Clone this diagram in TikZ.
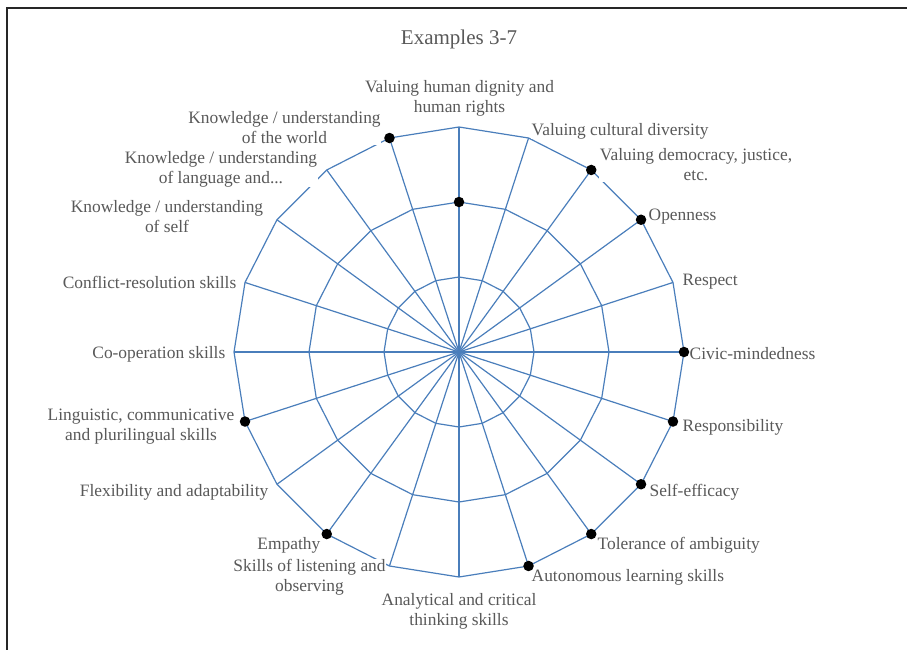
\documentclass[tikz,border=0pt]{standalone}
\usepackage{fontspec}
\setmainfont{Liberation Serif}
\usetikzlibrary{calc}
\definecolor{gridblue}{HTML}{4A7EBB}
\definecolor{labelgray}{HTML}{595959}
\begin{document}
\begin{tikzpicture}[x=1pt,y=-1pt,
  lbl/.style={text=labelgray, font=\fontsize{17.4}{20}\selectfont, fill=white, inner sep=0.5pt, align=center},
  gridline/.style={draw=gridblue, line width=1.2pt, line join=round},
  datadot/.style={circle, fill=black, inner sep=0pt, minimum size=10.5pt},
  frameline/.style={draw=black!85, line width=2pt}]
\useasboundingbox (0,0) rectangle (907,650);
% frame (top and left edges visible)
\coordinate (fa) at (907,8);
\coordinate (fb) at (7,8);
\coordinate (fc) at (7,650);
\draw[frameline] (fa) -- (fb) -- (fc);
% title
\node[lbl, font=\fontsize{21}{24}\selectfont] (title) at (459,39) {Examples 3-7};
% radar grid
\coordinate (c) at (459,352);
\foreach \k in {0,...,19} {
  \pgfmathsetmacro\a{18*\k-90}
  \coordinate (o\k) at ($(c)+(\a:225)$);
  \coordinate (m\k) at ($(c)+(\a:150)$);
  \coordinate (i\k) at ($(c)+(\a:75)$);
}
\foreach \k in {0,...,19} \draw[gridline] (c) -- (o\k);
\draw[gridline] (i0) \foreach \k in {1,...,19}{ -- (i\k)} -- cycle;
\draw[gridline] (m0) \foreach \k in {1,...,19}{ -- (m\k)} -- cycle;
\draw[gridline] (o0) \foreach \k in {1,...,19}{ -- (o\k)} -- cycle;
% labels
\node[lbl] (l0) at (459.5,98) {Valuing human dignity and\\human rights};
\node[lbl, anchor=west] (l1) at (531,131) {Valuing cultural diversity};
\node[lbl] (l2) at (696,165) {Valuing democracy, justice,\\etc.};
\node[lbl, anchor=west] (l3) at (648,217) {Openness};
\node[lbl, anchor=west] (l4) at (682,282) {Respect};
\node[lbl, anchor=west] (l5) at (689,354) {Civic-mindedness};
\node[lbl, anchor=west] (l6) at (682,427) {Responsibility};
\node[lbl, anchor=west] (l7) at (649,492) {Self-efficacy};
\node[lbl, anchor=west] (l8) at (597,545) {Tolerance of ambiguity};
\node[lbl, anchor=west] (l9) at (531,577) {Autonomous learning skills};
\node[lbl] (l10) at (459,611) {Analytical and critical\\thinking skills};
\node[lbl] (l11) at (309.5,577) {Skills of listening and\\observing};
\node[lbl, anchor=east] (l12) at (321,545) {Empathy};
\node[lbl, anchor=east] (l13) at (269,492) {Flexibility and adaptability};
\node[lbl] (l14) at (141,427) {Linguistic, communicative\\and plurilingual skills};
\node[lbl, anchor=east] (l15) at (226,354) {Co-operation skills};
\node[lbl, anchor=east] (l16) at (237,282) {Conflict-resolution skills};
\node[lbl] (l17) at (167,217) {Knowledge / understanding\\of self};
\node[lbl] (l19) at (284.5,128) {Knowledge / understanding\\of the world};
\node[lbl] (l18) at (221,169) {Knowledge / understanding\\of language and...};
% data markers
\foreach \p in {m0,o2,o3,o5,o6,o7,o8,o9,o12,o14,o19}
  \node[datadot] (d\p) at (\p) {};
\end{tikzpicture}
\end{document}
